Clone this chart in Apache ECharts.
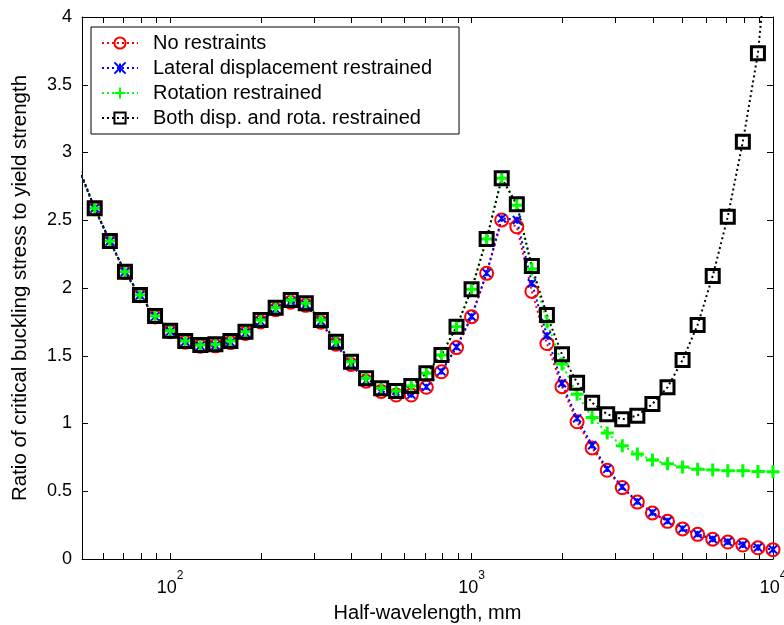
<!DOCTYPE html>
<html>
<head>
<meta charset="utf-8">
<script src="https://cdn.jsdelivr.net/npm/echarts@6/dist/echarts.min.js"></script>
<style>html,body{margin:0;padding:0;background:#fff}#c{width:784px;height:625px}</style>
</head>
<body>
<div id="c"></div>
<script>
// Half-wavelength (mm)
var halfWavelength = [50.1, 56.2, 63.1, 70.8, 79.4, 89.1, 100, 112.2, 125.9, 141.3, 158.5, 177.8, 199.5, 223.9, 251.2, 281.8, 316.2, 354.8, 398.1, 446.7, 501.2, 562.3, 631, 707.9, 794.3, 891.3, 1000, 1122, 1259, 1413, 1585, 1778, 1995, 2239, 2512, 2818, 3162, 3548, 3981, 4467, 5012, 5623, 6310, 7079, 7943, 8913, 10000];

var noRestraints = [2.86, 2.585, 2.343, 2.115, 1.943, 1.786, 1.677, 1.600, 1.570, 1.573, 1.597, 1.665, 1.750, 1.840, 1.895, 1.872, 1.748, 1.585, 1.435, 1.312, 1.237, 1.21, 1.21, 1.267, 1.382, 1.56, 1.788, 2.108, 2.502, 2.452, 1.975, 1.590, 1.272, 1.013, 0.82, 0.655, 0.527, 0.42, 0.34, 0.278, 0.222, 0.182, 0.146, 0.125, 0.103, 0.083, 0.069];

var lateralRestrained = [2.86, 2.588, 2.345, 2.118, 1.946, 1.789, 1.680, 1.603, 1.573, 1.576, 1.600, 1.668, 1.754, 1.844, 1.899, 1.876, 1.752, 1.590, 1.440, 1.316, 1.240, 1.213, 1.213, 1.27, 1.385, 1.565, 1.79, 2.11, 2.514, 2.502, 2.035, 1.65, 1.297, 1.038, 0.84, 0.665, 0.532, 0.424, 0.343, 0.28, 0.224, 0.184, 0.148, 0.127, 0.105, 0.085, 0.07];

var rotationRestrained = [2.87, 2.588, 2.347, 2.120, 1.948, 1.793, 1.685, 1.609, 1.579, 1.584, 1.609, 1.678, 1.764, 1.855, 1.911, 1.887, 1.764, 1.604, 1.456, 1.334, 1.260, 1.240, 1.277, 1.370, 1.506, 1.714, 1.990, 2.362, 2.810, 2.61, 2.14, 1.75, 1.44, 1.215, 1.045, 0.93, 0.835, 0.775, 0.731, 0.703, 0.679, 0.663, 0.657, 0.652, 0.651, 0.646, 0.644];

var bothRestrained = [2.87, 2.588, 2.347, 2.120, 1.948, 1.793, 1.685, 1.609, 1.579, 1.584, 1.609, 1.678, 1.764, 1.855, 1.911, 1.887, 1.764, 1.604, 1.456, 1.334, 1.260, 1.240, 1.277, 1.370, 1.506, 1.714, 1.990, 2.362, 2.810, 2.618, 2.162, 1.801, 1.511, 1.301, 1.154, 1.068, 1.031, 1.058, 1.144, 1.267, 1.469, 1.727, 2.089, 2.526, 3.080, 3.732, 4.9];

var seriesNames = ['No restraints', 'Lateral displacement restrained', 'Rotation restrained', 'Both disp. and rota. restrained'];

var xMajorTicks = [100, 1000, 10000];
var xMinorTicks = [60, 70, 80, 90, 100, 200, 300, 400, 500, 600, 700, 800, 900, 1000, 2000, 3000, 4000, 5000, 6000, 7000, 8000, 9000, 10000];

function pairs(ys) { return ys.map(function (y, i) { return [halfWavelength[i], y]; }); }

var FONT = 'Liberation Sans, Arial, sans-serif';
var chart = echarts.init(document.getElementById('c'), null, {renderer: 'canvas'});

function xAx(pos, showLabel) {
  return {
    type: 'log', logBase: 10, min: 51, max: 10000, position: pos,
    axisLine: {show: true, onZero: false, lineStyle: {color: '#000', width: 1}},
    splitLine: {show: false},
    axisTick: {show: true, inside: true, length: 6, lineStyle: {color: '#000'}, customValues: xMinorTicks},
    axisLabel: showLabel ? {
      show: true, margin: 11, customValues: xMajorTicks,
      formatter: function (v) { return '{b|10}{s|' + Math.round(Math.log10(v)) + '}'; },
      rich: {
        b: {fontSize: 18, fontFamily: FONT, color: '#000', verticalAlign: 'bottom'},
        s: {fontSize: 12, fontFamily: FONT, color: '#000', verticalAlign: 'bottom', padding: [0, 0, 15, 0]}
      }
    } : {show: false},
    minorTick: {show: false}
  };
}

function yAx(pos, showLabel) {
  return {
    type: 'value', min: 0, max: 4, interval: 0.5, position: pos,
    axisLine: {show: true, onZero: false, lineStyle: {color: '#000', width: 1}},
    splitLine: {show: false},
    axisTick: {show: true, inside: true, length: 6, lineStyle: {color: '#000'}},
    axisLabel: showLabel ? {show: true, margin: 10, fontSize: 18, fontFamily: FONT, color: '#000'} : {show: false}
  };
}

var xBottom = xAx('bottom', true);
xBottom.name = 'Half-wavelength, mm';
xBottom.nameLocation = 'middle';
xBottom.nameGap = 44;
xBottom.nameTextStyle = {fontSize: 20, fontFamily: FONT, color: '#000'};

var yLeft = yAx('left', true);
yLeft.name = 'Ratio of critical buckling stress to yield strength';
yLeft.nameLocation = 'middle';
yLeft.nameGap = 51;
yLeft.nameTextStyle = {fontSize: 20.5, fontFamily: FONT, color: '#000'};

var dash = [2, 3];
var option = {
  animation: false,
  backgroundColor: '#fff',
  grid: {left: 82, top: 17, width: 691, height: 542, containLabel: false, outerBoundsMode: 'none'},
  xAxis: [xBottom, xAx('top', false)],
  yAxis: [yLeft, yAx('right', false)],
  legend: {
    orient: 'vertical', left: 91, top: 27,
    data: seriesNames,
    backgroundColor: '#fff', borderColor: '#000', borderWidth: 1,
    padding: [6, 27, 6, 10], itemGap: 5, itemWidth: 36, itemHeight: 14,
    textStyle: {fontSize: 20, lineHeight: 20, fontFamily: FONT, color: '#000', padding: [0, 0, 0, 10]}
  },
  series: [
    {name: seriesNames[0], type: 'line', data: pairs(noRestraints), symbol: 'circle', symbolSize: 13,
     itemStyle: {color: 'none', borderColor: '#ff0000', borderWidth: 2},
     lineStyle: {color: '#ff0000', width: 2, type: dash}},
    {name: seriesNames[1], type: 'line', data: pairs(lateralRestrained), symbol: 'path://M0,0L10,10M10,0L0,10M5,1L5,9', symbolSize: 8,
     itemStyle: {color: 'none', borderColor: '#0000ff', borderWidth: 2},
     lineStyle: {color: '#0000ff', width: 2, type: dash}},
    {name: seriesNames[2], type: 'line', data: pairs(rotationRestrained), symbol: 'path://M5,0L5,10M0,5L10,5', symbolSize: 13,
     itemStyle: {color: 'none', borderColor: '#00ff00', borderWidth: 3},
     lineStyle: {color: '#00ff00', width: 2, type: dash}},
    {name: seriesNames[3], type: 'line', data: pairs(bothRestrained), symbol: 'rect', symbolSize: 13,
     itemStyle: {color: 'none', borderColor: '#000000', borderWidth: 3},
     lineStyle: {color: '#000000', width: 2, type: dash}}
  ]
};
chart.setOption(option);
</script>
</body>
</html>
